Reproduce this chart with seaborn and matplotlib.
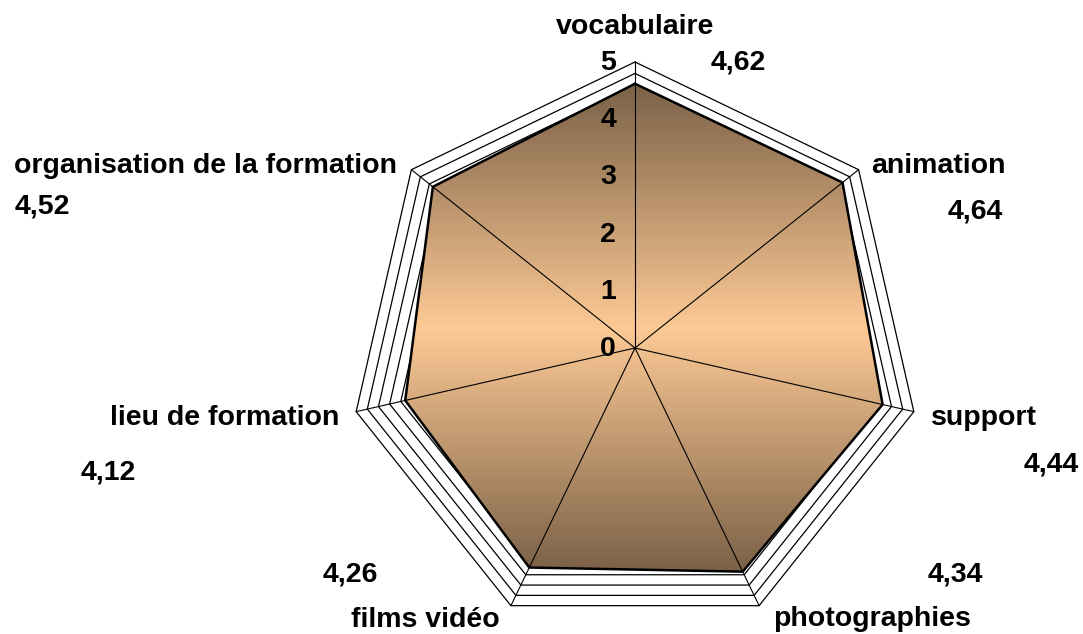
import numpy as np
import seaborn as sns
import matplotlib.pyplot as plt
from matplotlib.patches import Polygon
from matplotlib.colors import LinearSegmentedColormap

categories = ["vocabulaire", "animation", "support", "photographies",
              "films vidéo", "lieu de formation", "organisation de la formation"]
scores = [4.62, 4.64, 4.44, 4.34, 4.26, 4.12, 4.52]
score_labels = ["4,62", "4,64", "4,44", "4,34", "4,26", "4,12", "4,52"]
ticks = [0, 1, 2, 3, 4, 5]
grid_levels = np.arange(0.2, 5.01, 0.2)

# layout (pixels in the 1083x634 image): centre, px per unit, label baselines
CX, CY, UNIT = 635, 348, 57.2
W, H = 1083, 634
CAT_POS = [(635, 34), (938, 173), (984, 425), (872, 626),
           (425, 627), (225, 425), (205, 173)]
VAL_POS = [(738, 69), (975, 218), (1051, 471), (955, 582),
           (350, 582), (108, 480), (42, 214)]

DARK = "#7b6147"
LIGHT = "#fdca95"

sns.set_theme(style="white")
plt.rcParams["font.family"] = ["Liberation Sans", "DejaVu Sans"]

fig = plt.figure(figsize=(W / 100, H / 100), dpi=100)
ax = fig.add_axes([0, 0, 1, 1])

n = len(categories)
theta = 2 * np.pi * np.arange(n) / n


def to_xy(vals):
    vals = np.asarray(vals, dtype=float)
    x = vals * np.sin(theta)
    y = vals * np.cos(theta)
    return np.append(x, x[0]), np.append(y, y[0])


# polygon grid rings
for lev in grid_levels:
    gx, gy = to_xy([lev] * n)
    ax.plot(gx, gy, color="black", lw=0.9, zorder=1)

# data area with vertical gradient (dark - light - dark)
dx, dy = to_xy(scores)
poly = Polygon(np.column_stack([dx, dy]), closed=True, facecolor="none",
               edgecolor="none", zorder=2)
ax.add_patch(poly)
cmap = LinearSegmentedColormap.from_list("brown", [DARK, LIGHT, DARK])
grad = np.linspace(0, 1, 256).reshape(-1, 1)
im = ax.imshow(grad, extent=[dx.min(), dx.max(), dy.min(), dy.max()],
               origin="lower", aspect="auto", cmap=cmap, zorder=2)
im.set_clip_path(poly)

sns.lineplot(x=dx, y=dy, sort=False, estimator=None, color="black",
             lw=1.8, ax=ax, zorder=3)

# spokes
for t in theta:
    ax.plot([0, 5 * np.sin(t)], [0, 5 * np.cos(t)], color="black",
            lw=0.8, zorder=4)

# radial tick labels
for tk in ticks:
    ax.text(-0.33, tk - 0.14, str(tk), ha="right", va="baseline",
            fontsize=20.5, fontweight="bold", color="black", zorder=5)

ax.set_xlim(-CX / UNIT, (W - CX) / UNIT)
ax.set_ylim(-(H - CY) / UNIT, CY / UNIT)
ax.axis("off")

for name, (px, py) in zip(categories, CAT_POS):
    fig.text(px / W, 1 - py / H, name, ha="center", va="baseline",
             fontsize=20.5, fontweight="bold", color="black")
for lab, (px, py) in zip(score_labels, VAL_POS):
    fig.text(px / W, 1 - py / H, lab, ha="center", va="baseline",
             fontsize=20.5, fontweight="bold", color="black")

fig.savefig("out.png", dpi=100, facecolor="white")
